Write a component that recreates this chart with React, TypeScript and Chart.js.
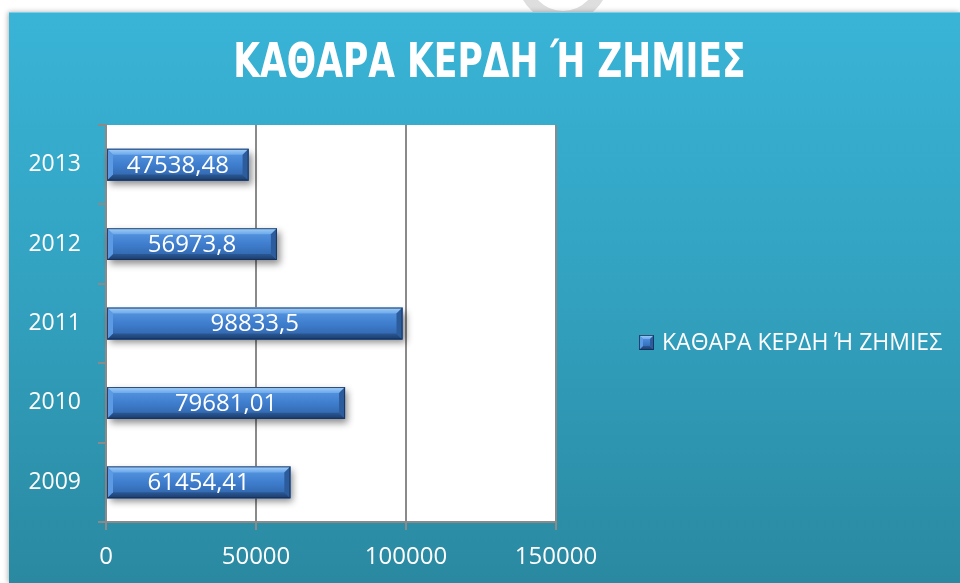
import React, { useEffect, useRef } from 'react';
import { Chart, registerables } from 'chart.js';

Chart.register(...registerables);

const categories = ['2009', '2010', '2011', '2012', '2013'];
const seriesName = 'ΚΑΘΑΡΑ ΚΕΡΔΗ Ή ΖΗΜΙΕΣ';
const values = [61454.41, 79681.01, 98833.5, 56973.8, 47538.48];
const xTicks = [0, 50000, 100000, 150000];
const titleText = 'ΚΑΘΑΡΑ ΚΕΡΔΗ Ή ΖΗΜΙΕΣ';

const FONT = "'Open Sans', 'Noto Sans', sans-serif";
const TITLE_FONT = "'DejaVu Sans Condensed', 'Open Sans', sans-serif";
const W = 960;
const H = 583;
const PLOT_LEFT = 106;
const PLOT_RIGHT = 556;
const PLOT_TOP = 125;
const PLOT_BOTTOM = 522;
const LEGEND_FONT = 23;
const LEGEND_BOX = 15;

const fmt = (v: number) => String(v).replace('.', ',');

const bgPlugin = {
  id: 'bgPlugin',
  beforeDraw(chart: any) {
    const { ctx, chartArea } = chart;
    ctx.save();
    ctx.fillStyle = '#ffffff';
    ctx.fillRect(0, 0, W, H);
    ctx.save();
    ctx.beginPath();
    ctx.rect(0, 0, W, 12);
    ctx.clip();
    ctx.strokeStyle = '#dedede';
    ctx.lineWidth = 12;
    ctx.beginPath();
    ctx.arc(563, -23, 40, 0, Math.PI * 2);
    ctx.stroke();
    ctx.restore();
    ctx.save();
    ctx.shadowColor = 'rgba(0,0,0,0.3)';
    ctx.shadowBlur = 5;
    ctx.shadowOffsetX = -1;
    ctx.shadowOffsetY = 0;
    const g = ctx.createLinearGradient(0, 12, 0, H);
    g.addColorStop(0, '#39B4D7');
    g.addColorStop(0.5, '#32A1BF');
    g.addColorStop(1, '#2A89A1');
    ctx.fillStyle = g;
    ctx.fillRect(9, 12, W - 9, H - 12);
    ctx.restore();
    ctx.fillStyle = 'rgba(255,255,255,0.35)';
    ctx.fillRect(9, 12, W - 9, 1);
    ctx.fillStyle = '#ffffff';
    ctx.fillRect(chartArea.left, chartArea.top, chartArea.right - chartArea.left, chartArea.bottom - chartArea.top);
    ctx.restore();
  },
};

function bevelRect(ctx: CanvasRenderingContext2D, L: number, T: number, R: number, B: number, b: number) {
  const face = ctx.createLinearGradient(0, T, 0, B);
  face.addColorStop(0, '#5A9AE4');
  face.addColorStop(0.5, '#3F7ECE');
  face.addColorStop(1, '#2D5FA3');
  ctx.fillStyle = face;
  ctx.fillRect(L, T, R - L, B - T);
  const tg = ctx.createLinearGradient(0, T, 0, T + b);
  tg.addColorStop(0, '#A4D0F7');
  tg.addColorStop(1, '#6BA8EC');
  ctx.fillStyle = tg;
  ctx.beginPath();
  ctx.moveTo(L, T);
  ctx.lineTo(R, T);
  ctx.lineTo(R - b, T + b);
  ctx.lineTo(L + b, T + b);
  ctx.closePath();
  ctx.fill();
  const bg = ctx.createLinearGradient(0, B - b, 0, B);
  bg.addColorStop(0, '#2A5894');
  bg.addColorStop(1, '#1B3C6B');
  ctx.fillStyle = bg;
  ctx.beginPath();
  ctx.moveTo(L, B);
  ctx.lineTo(R, B);
  ctx.lineTo(R - b, B - b);
  ctx.lineTo(L + b, B - b);
  ctx.closePath();
  ctx.fill();
  ctx.fillStyle = '#2C5C9B';
  ctx.beginPath();
  ctx.moveTo(R, T);
  ctx.lineTo(R, B);
  ctx.lineTo(R - b, B - b);
  ctx.lineTo(R - b, T + b);
  ctx.closePath();
  ctx.fill();
  ctx.fillStyle = '#5C9BE3';
  ctx.beginPath();
  ctx.moveTo(L, T);
  ctx.lineTo(L, B);
  ctx.lineTo(L + b, B - b);
  ctx.lineTo(L + b, T + b);
  ctx.closePath();
  ctx.fill();
  ctx.strokeStyle = 'rgba(20,45,85,0.8)';
  ctx.lineWidth = 1;
  ctx.strokeRect(L + 0.5, T + 0.5, R - L - 1, B - T - 1);
}

const barPlugin = {
  id: 'barPlugin',
  beforeDatasetsDraw(chart: any) {
    const { ctx } = chart;
    const meta = chart.getDatasetMeta(0);
    ctx.save();
    meta.data.forEach((el: any) => {
      const T = el.y - el.height / 2;
      ctx.shadowColor = 'rgba(0,0,0,0.45)';
      ctx.shadowBlur = 7;
      ctx.shadowOffsetX = 3;
      ctx.shadowOffsetY = 4;
      ctx.fillStyle = '#3D7BCB';
      ctx.fillRect(el.base, T, el.x - el.base, el.height);
    });
    ctx.restore();
  },
  afterDatasetsDraw(chart: any) {
    const { ctx } = chart;
    const meta = chart.getDatasetMeta(0);
    const data = chart.data.datasets[0].data;
    ctx.save();
    meta.data.forEach((el: any, i: number) => {
      const L = el.base;
      const R = el.x;
      const T = el.y - el.height / 2;
      const B = el.y + el.height / 2;
      bevelRect(ctx, L, T, R, B, 6);
      ctx.fillStyle = '#ffffff';
      ctx.font = `24px ${FONT}`;
      ctx.textAlign = 'center';
      ctx.textBaseline = 'middle';
      ctx.fillText(fmt(data[i]), (L + R) / 2, el.y + 1);
    });
    ctx.restore();
  },
  afterDraw(chart: any) {
    const { ctx, chartArea } = chart;
    ctx.save();
    ctx.translate(489.5, 65);
    ctx.scale(0.8, 1);
    ctx.fillStyle = '#ffffff';
    ctx.font = `bold 48px ${TITLE_FONT}`;
    ctx.textAlign = 'center';
    ctx.textBaseline = 'middle';
    ctx.fillText(titleText, 0, 0);
    ctx.restore();

    const label = chart.data.datasets[0].label;
    const lx = chartArea.right + 83;
    const cy = (chartArea.top + chartArea.bottom) / 2 + 19;
    ctx.save();
    bevelRect(ctx, lx, cy - LEGEND_BOX / 2, lx + LEGEND_BOX, cy + LEGEND_BOX / 2, 4);
    ctx.fillStyle = '#ffffff';
    ctx.font = `${LEGEND_FONT}px ${FONT}`;
    ctx.textAlign = 'left';
    ctx.textBaseline = 'middle';
    ctx.fillText(label, lx + LEGEND_BOX + 8, cy + 1);
    ctx.restore();
  },
};

export default function App() {
  const ref = useRef<HTMLCanvasElement | null>(null);

  useEffect(() => {
    if (!ref.current) return;
    const chart = new Chart(ref.current, {
      type: 'bar',
      data: {
        labels: categories,
        datasets: [
          {
            label: seriesName,
            data: values,
            backgroundColor: '#3D7BCB',
            borderWidth: 0,
            barPercentage: 0.4,
            categoryPercentage: 1.0,
          },
        ],
      },
      options: {
        indexAxis: 'y',
        animation: false,
        responsive: false,
        maintainAspectRatio: false,
        layout: { padding: { left: 0, right: W - PLOT_RIGHT, top: PLOT_TOP, bottom: 0 } },
        plugins: {
          title: { display: false },
          legend: { display: false },
          tooltip: { enabled: false },
        },
        scales: {
          y: {
            reverse: true,
            offset: true,
            grid: {
              display: true,
              drawOnChartArea: false,
              drawTicks: true,
              tickLength: 8,
              color: '#8a8a8a',
              lineWidth: 2,
              offset: true,
            },
            border: { display: true, color: '#8a8a8a', width: 2 },
            ticks: { color: '#ffffff', font: { family: FONT, size: 23 }, padding: 17 },
            afterFit: (s: any) => {
              s.width = PLOT_LEFT;
            },
          },
          x: {
            min: xTicks[0],
            max: xTicks[xTicks.length - 1],
            grid: { color: '#8a8a8a', lineWidth: 2, tickLength: 8, drawTicks: true },
            border: { display: true, color: '#8a8a8a', width: 2 },
            ticks: {
              color: '#ffffff',
              font: { family: FONT, size: 24 },
              padding: 13,
              callback: (v: any) => String(v),
            },
            afterBuildTicks: (s: any) => {
              s.ticks = xTicks.map((v) => ({ value: v }));
            },
            afterFit: (s: any) => {
              s.height = H - PLOT_BOTTOM;
            },
          },
        },
      },
      plugins: [bgPlugin, barPlugin],
    });
    return () => chart.destroy();
  }, []);

  return (
    <div style={{ position: 'absolute', left: 0, top: 0, width: W, height: H }}>
      <canvas ref={ref} width={W} height={H} style={{ width: W, height: H, display: 'block' }} />
    </div>
  );
}
